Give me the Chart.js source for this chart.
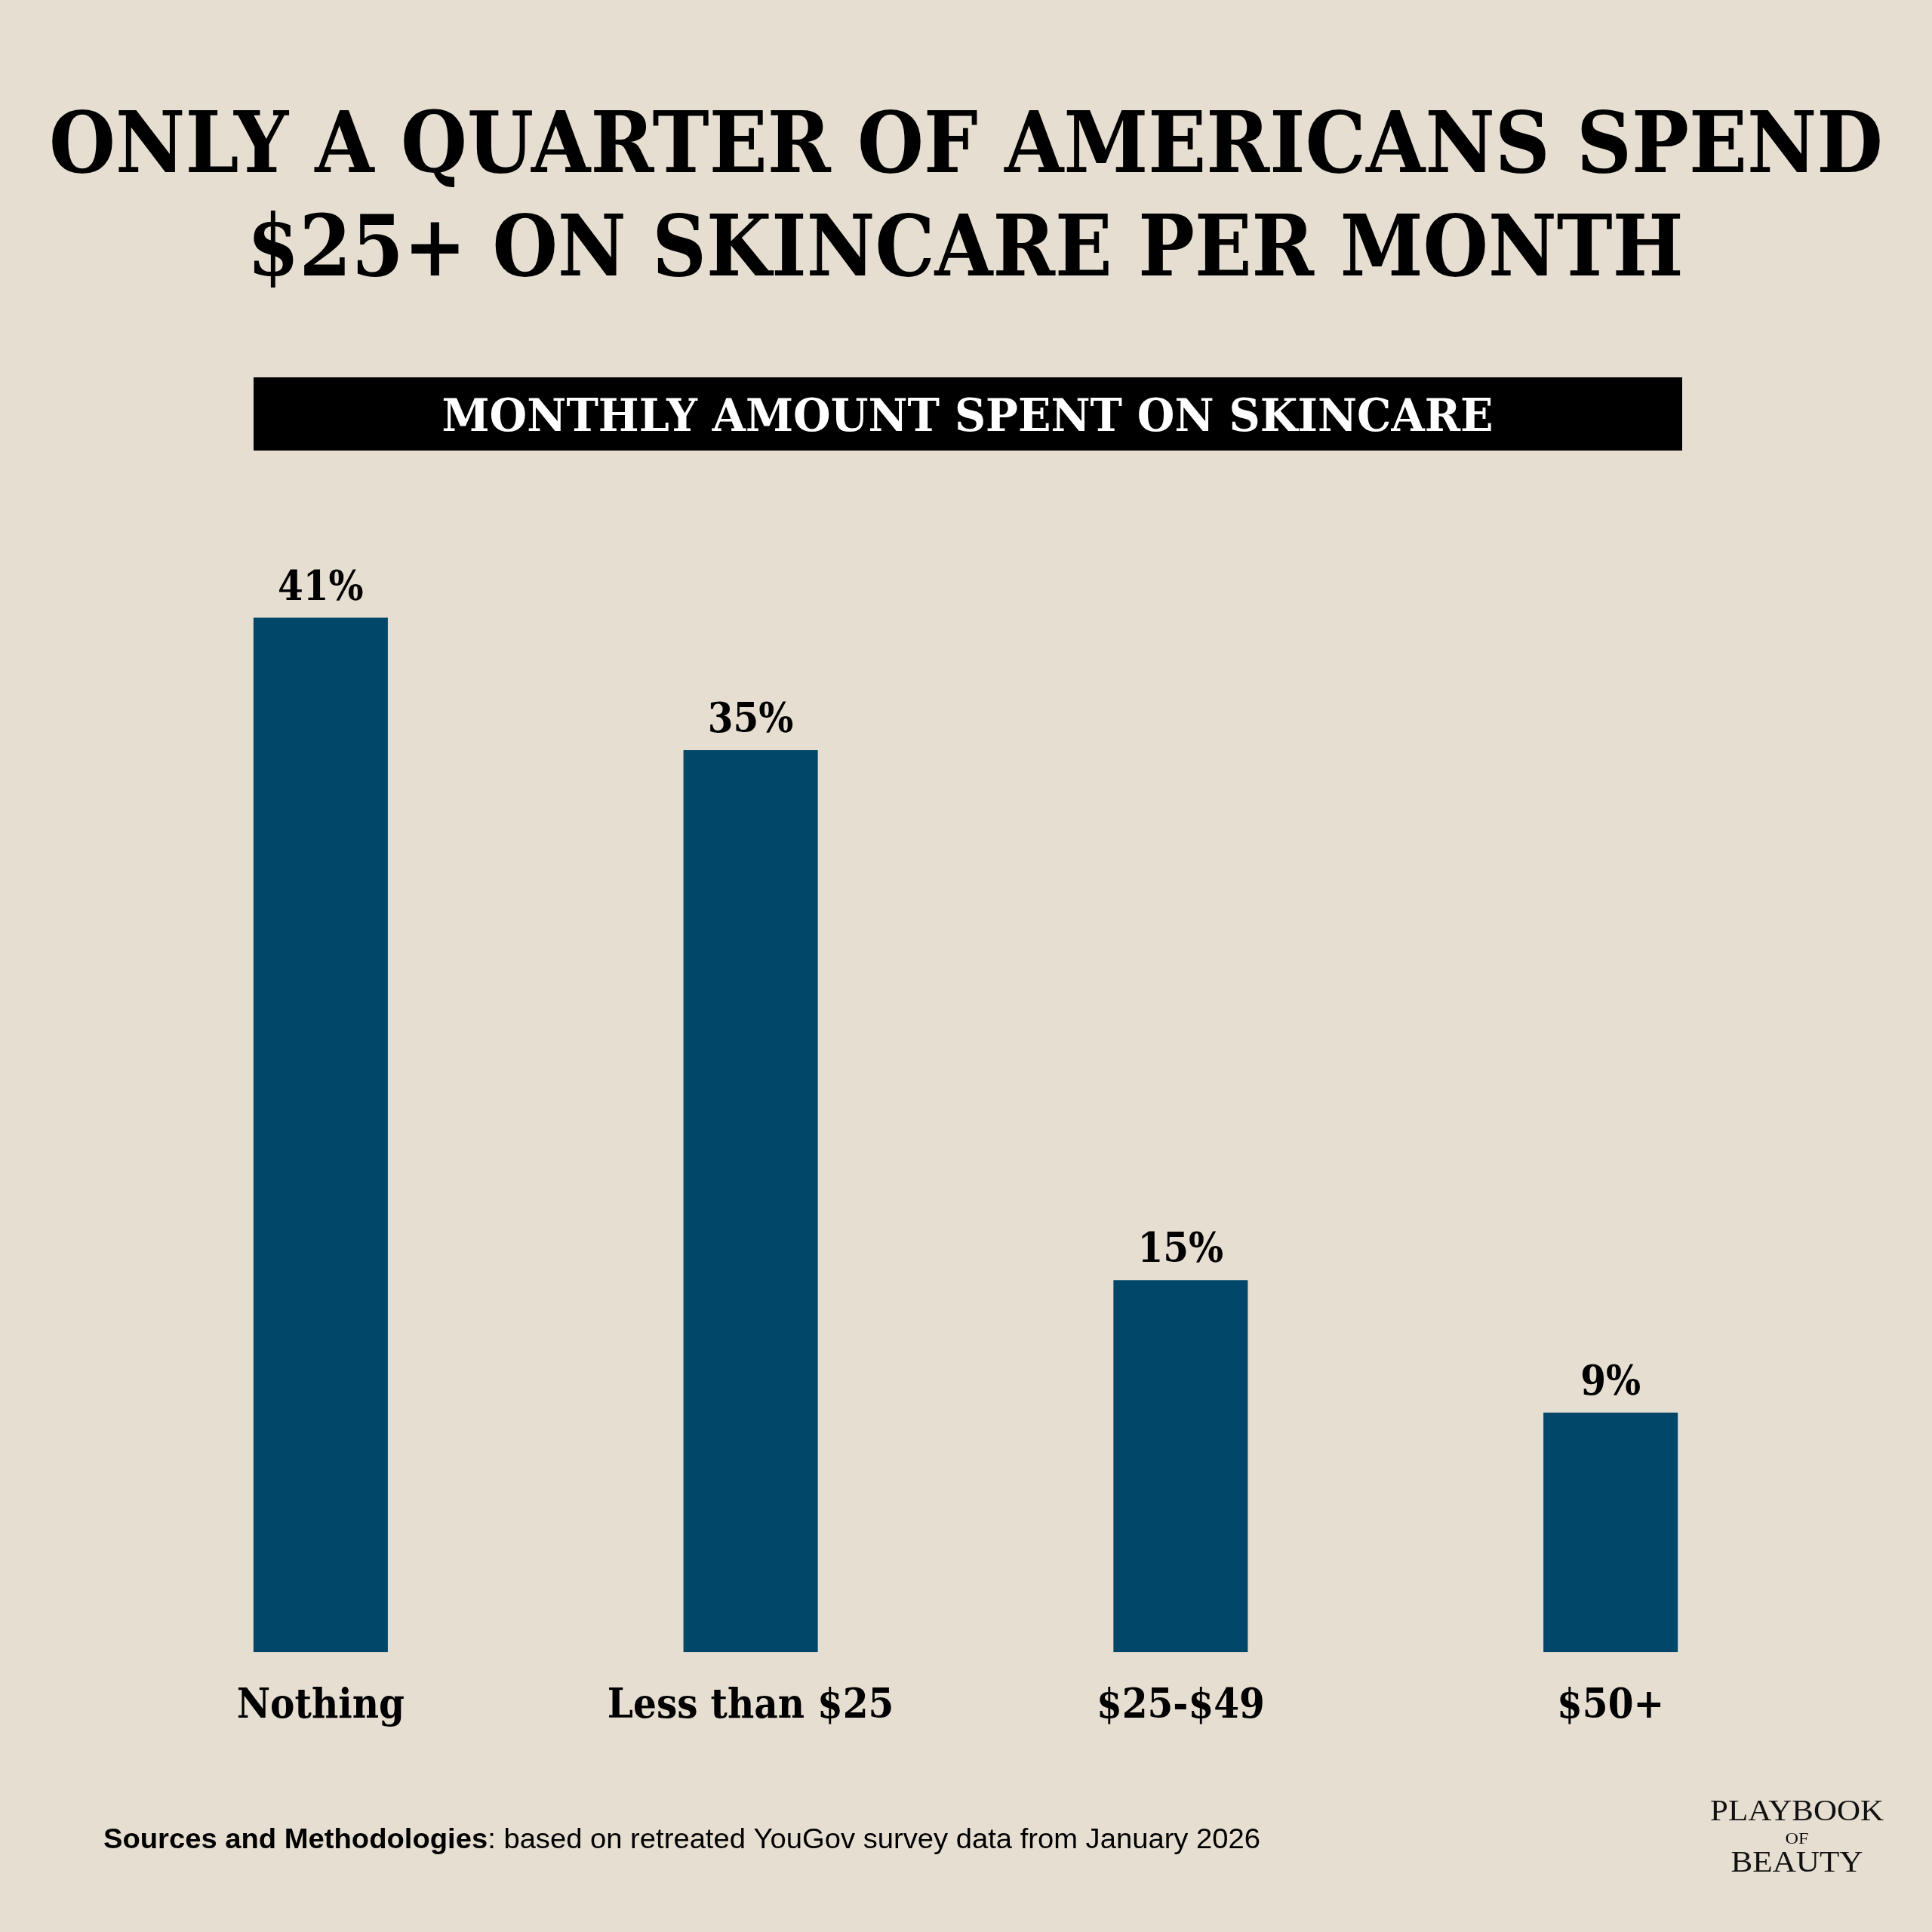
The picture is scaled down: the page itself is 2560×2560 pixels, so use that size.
<!DOCTYPE html>
<html>
<head>
<meta charset="utf-8">
<title>Monthly amount spent on skincare</title>
<script src="https://cdn.jsdelivr.net/npm/chart.js@4.4.1/dist/chart.umd.min.js"></script>
<style>
  html, body { margin: 0; padding: 0; background: #e6ded1; }
  #wrap { width: 2560px; height: 2560px; }
</style>
</head>
<body>
<div id="wrap"><canvas id="skinChart" width="2560" height="2560"></canvas></div>
<script>
const categories = ['Nothing', 'Less than $25', '$25-$49', '$50+'];
const shares = [40.6, 35.4, 14.6, 9.4]; // % of Americans
const titleLines = ['ONLY A QUARTER OF AMERICANS SPEND', '$25+ ON SKINCARE PER MONTH'];
const subtitle = 'MONTHLY AMOUNT SPENT ON SKINCARE';
const sourceBold = 'Sources and Methodologies';
const sourceText = ': based on retreated YouGov survey data from January 2026';
const brand = ['PLAYBOOK', 'OF', 'BEAUTY'];

const BG = '#e6ded1';
const BAR = '#01476a';
const SLAB = "'DejaVu Serif Condensed', 'DejaVu Serif', serif";

// draw text centred on cx and squeezed to a given width
function fitText(ctx, text, cx, y, width, font, color) {
  ctx.save();
  ctx.font = font;
  ctx.fillStyle = color;
  ctx.textAlign = 'center';
  ctx.textBaseline = 'alphabetic';
  const w = ctx.measureText(text).width;
  ctx.translate(cx, y);
  ctx.scale(width / w, 1);
  ctx.fillText(text, 0, 0);
  ctx.restore();
}

const decor = {
  id: 'decor',
  beforeDraw(chart) {
    const ctx = chart.ctx;
    ctx.save();
    ctx.fillStyle = BG;
    ctx.fillRect(0, 0, chart.width, chart.height);

    fitText(ctx, titleLines[0], 1280, 228, 2430, "bold 112px 'DejaVu Serif'", '#000');
    fitText(ctx, titleLines[1], 1279, 365, 1903, "bold 112px 'DejaVu Serif'", '#000');

    ctx.fillStyle = '#000';
    ctx.fillRect(336, 500, 1893, 97);
    fitText(ctx, subtitle, 1282, 571, 1393, "bold 60px 'DejaVu Serif'", '#fff');

    // footer source line
    ctx.font = "bold 36px 'Liberation Sans', Arial, sans-serif";
    const wb = ctx.measureText(sourceBold).width;
    ctx.font = "36px 'Liberation Sans', Arial, sans-serif";
    const wr = ctx.measureText(sourceText).width;
    const k = 1533 / (wb + wr);
    ctx.translate(137, 2449);
    ctx.scale(k, 1);
    ctx.fillStyle = '#000';
    ctx.textAlign = 'left';
    ctx.font = "bold 36px 'Liberation Sans', Arial, sans-serif";
    ctx.fillText(sourceBold, 0, 0);
    ctx.font = "36px 'Liberation Sans', Arial, sans-serif";
    ctx.fillText(sourceText, wb, 0);
    ctx.restore();

    fitText(ctx, brand[0], 2381, 2412, 230, "40px 'Liberation Serif', serif", '#111');
    fitText(ctx, brand[1], 2381, 2443, 31, "20px 'Liberation Serif', serif", '#111');
    fitText(ctx, brand[2], 2381, 2480, 175, "40px 'Liberation Serif', serif", '#111');
  },
  afterDatasetsDraw(chart) {
    const ctx = chart.ctx;
    const meta = chart.getDatasetMeta(0);
    ctx.save();
    ctx.font = 'bold 54px ' + SLAB;
    ctx.fillStyle = '#000';
    ctx.textAlign = 'center';
    ctx.textBaseline = 'alphabetic';
    meta.data.forEach((bar, i) => {
      ctx.fillText(Math.round(shares[i]) + '%', bar.x, bar.y - 24);
    });
    ctx.restore();
  }
};

new Chart(document.getElementById('skinChart'), {
  type: 'bar',
  data: {
    labels: categories,
    datasets: [{
      data: shares,
      backgroundColor: BAR,
      borderWidth: 0,
      categoryPercentage: 1,
      barPercentage: 0.3125
    }]
  },
  options: {
    responsive: false,
    devicePixelRatio: 1,
    animation: false,
    layout: { padding: { left: 140, right: 141, top: 670, bottom: 226 } },
    plugins: { legend: { display: false }, tooltip: { enabled: false } },
    scales: {
      y: { display: false, min: 0, max: 45 },
      x: {
        grid: { display: false, drawTicks: false },
        border: { display: false },
        ticks: { color: '#000', padding: 40, font: { family: SLAB, weight: 'bold', size: 54 } }
      }
    }
  },
  plugins: [decor]
});
</script>
</body>
</html>
